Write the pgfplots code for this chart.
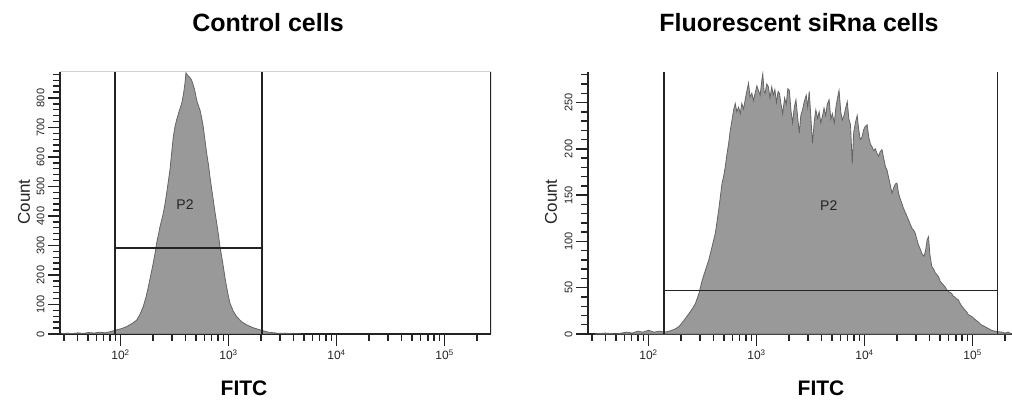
\documentclass[border=0pt]{standalone}
\usepackage{pgfplots}
\pgfplotsset{compat=1.18}
\usepackage{fontspec}
\setmainfont{Liberation Sans}
\definecolor{histfill}{RGB}{153,153,153}
\definecolor{histedge}{RGB}{100,100,100}
\definecolor{axcol}{RGB}{35,35,35}

\pgfplotstableread{
x y
1.453 0
1.504 3
1.554 1
1.605 4
1.655 2
1.706 5
1.756 3
1.807 6
1.857 4
1.908 8
1.964 14
2.008 18
2.057 25
2.109 36
2.150 47
2.180 66
2.211 93
2.236 125
2.258 160
2.281 200
2.303 240
2.321 275
2.334 307
2.352 338
2.366 364
2.382 388
2.396 409
2.412 440
2.427 477
2.442 515
2.458 556
2.473 612
2.489 669
2.503 700
2.519 725
2.543 755
2.567 782
2.584 815
2.597 850
2.606 885
2.619 878
2.634 872
2.658 861
2.685 830
2.705 793
2.720 775
2.736 759
2.750 735
2.766 703
2.781 660
2.798 612
2.816 570
2.828 533
2.844 492
2.859 454
2.876 410
2.891 375
2.907 335
2.921 296
2.937 262
2.952 228
2.967 192
2.982 160
2.998 130
3.014 104
3.043 78
3.075 59
3.119 42
3.168 31
3.230 21
3.291 14
3.371 6
3.421 4
3.472 2
3.522 3
3.573 1
3.674 0
}\controldata

\pgfplotstableread{
x y
1.50 0
1.60 1
1.70 0
1.80 2
1.85 1
1.90 3
1.95 2
2.00 4
2.05 2
2.10 3
2.15 2
2.19 3
2.24 5
2.282 8
2.33 15
2.374 22
2.41 28
2.435 33
2.47 45
2.497 58
2.53 70
2.558 80
2.59 95
2.619 109
2.635 122
2.650 134
2.665 148
2.681 163
2.695 170
2.711 181
2.725 193
2.742 206
2.757 220
2.773 231
2.788 242
2.803 249
2.818 240
2.834 245
2.85 238
2.864 249
2.88 243
2.895 253
2.91 262
2.926 271
2.94 256
2.957 260
2.972 252
2.987 260
3.003 268
3.018 263
3.034 258
3.049 274
3.058 281
3.07 262
3.079 260
3.095 270
3.11 267
3.125 255
3.141 267
3.155 258
3.17 264
3.185 250
3.20 262
3.212 260
3.227 248
3.242 238
3.26 255
3.275 248
3.29 265
3.304 263
3.32 240
3.334 228
3.35 245
3.365 253
3.38 235
3.396 217
3.41 236
3.426 242
3.44 250
3.46 258
3.474 245
3.488 262
3.50 240
3.518 206
3.535 230
3.549 242
3.565 233
3.58 240
3.595 228
3.610 235
3.625 244
3.64 236
3.655 248
3.672 253
3.688 232
3.702 238
3.72 228
3.735 245
3.75 255
3.764 263
3.78 240
3.794 231
3.81 236
3.825 244
3.840 251
3.855 232
3.87 226
3.886 184
3.90 218
3.915 228
3.932 236
3.945 222
3.96 210
3.978 213
3.99 220
4.005 224
4.024 226
4.04 212
4.055 205
4.070 202
4.085 198
4.10 200
4.116 195
4.13 192
4.145 197
4.162 199
4.18 188
4.195 180
4.208 177
4.225 168
4.24 160
4.254 152
4.27 158
4.285 162
4.300 163
4.315 152
4.33 146
4.346 141
4.36 136
4.375 132
4.39 128
4.408 123
4.425 118
4.44 114
4.455 112
4.469 109
4.485 102
4.50 96
4.515 92
4.530 87
4.55 84
4.565 90
4.58 102
4.592 105
4.605 86
4.622 73
4.64 70
4.655 66
4.67 64
4.684 62
4.70 57
4.715 55
4.73 53
4.745 51
4.76 48
4.775 46
4.79 45
4.806 44
4.82 41
4.835 40
4.85 38
4.868 37
4.885 33
4.90 30
4.915 28
4.929 26
4.945 24
4.96 21
4.975 20
4.991 19
5.02 16
5.052 13
5.08 10
5.113 8
5.145 6
5.175 4
5.205 3
5.236 2.5
5.27 2
5.298 1
5.33 2
5.36 0
}\sirnadata

\newcommand{\xtl}[1]{\fontsize{12}{12}\selectfont 10\textsuperscript{#1}}
\pgfplotsset{
  facs/.style={
    scale only axis,
    width=431pt, height=262pt,
    anchor=south west,
    xmin=1.44, xmax=5.43,
    ymin=0,
    axis x line*=bottom, axis y line*=left,
    axis line style={axcol, line width=1.5pt, -},
    xtick align=outside, ytick align=outside,
    major tick length=12pt, minor tick length=7pt,
    tick style={axcol, line width=1.5pt},
    major tick style={axcol, line width=1.5pt},
    minor tick style={axcol, line width=1.4pt},
    xtick={2,3,4,5},
    xticklabels={\xtl{2},\xtl{3},\xtl{4},\xtl{5}},
    minor xtick={1.477,1.602,1.699,1.778,1.845,1.903,1.954,
                 2.301,2.477,2.602,2.699,2.778,2.845,2.903,2.954,
                 3.301,3.477,3.602,3.699,3.778,3.845,3.903,3.954,
                 4.301,4.477,4.602,4.699,4.778,4.845,4.903,4.954,5.301},
    xticklabel style={text=axcol},
    yticklabel={\fontsize{11}{11}\selectfont\pgfmathprintnumber{\tick}},
    yticklabel style={rotate=90, anchor=south, text=axcol},
    /pgf/number format/assume math mode=true,
    clip=true,
  },
  gate/.style={axcol, line width=1.3pt, forget plot},
  hist/.style={fill=histfill, draw=histedge, line width=0.8pt},
}

\begin{document}
\begin{tikzpicture}[x=1pt,y=1pt]
\begin{axis}[facs, at={(60pt,65pt)}, ymax=888, ytick={0,100,...,800}, minor ytick={0,20,...,880}]
  \addplot[hist] table[x=x,y=y]{\controldata} \closedcycle;
  \addplot[gate] coordinates {(1.949,0) (1.949,888)};
  \addplot[gate] coordinates {(3.310,0) (3.310,888)};
  \addplot[gate] coordinates {(1.949,291) (3.310,291)};
  \node[font=\fontsize{14}{14}\selectfont, text=axcol] at (axis cs:2.597,437) {P2};
  \draw[gray!35, line width=1pt] (axis description cs:0,1) -- (axis description cs:1,1);
  \draw[axcol, line width=1.5pt] (axis description cs:1,0) -- (axis description cs:1,1);
\end{axis}
\begin{axis}[facs, at={(588pt,65pt)}, ymax=283, ytick={0,50,...,250}, minor ytick={0,10,...,280}]
  \addplot[hist] table[x=x,y=y]{\sirnadata} \closedcycle;
  \addplot[gate] coordinates {(2.144,0) (2.144,283)};
  \addplot[gate] coordinates {(5.233,0) (5.233,283)};
  \addplot[gate] coordinates {(2.144,47) (5.233,47)};
  \node[font=\fontsize{14}{14}\selectfont, text=axcol] at (axis cs:3.669,139) {P2};
\end{axis}
\node[font=\bfseries\fontsize{25}{25}\selectfont] at (268pt,376pt) {Control cells};
\node[font=\bfseries\fontsize{25}{25}\selectfont] at (799pt,376pt) {Fluorescent siRna cells};
\node[font=\bfseries\fontsize{21}{21}\selectfont] at (244pt,11pt) {FITC};
\node[font=\bfseries\fontsize{21}{21}\selectfont] at (821pt,11pt) {FITC};
\node[rotate=90, font=\fontsize{17}{17}\selectfont, text=axcol] at (24pt,197pt) {Count};
\node[rotate=90, font=\fontsize{17}{17}\selectfont, text=axcol] at (551pt,197pt) {Count};
\pgfresetboundingbox
\useasboundingbox (0pt,0pt) rectangle (1012pt,399pt);
\end{tikzpicture}
\end{document}
